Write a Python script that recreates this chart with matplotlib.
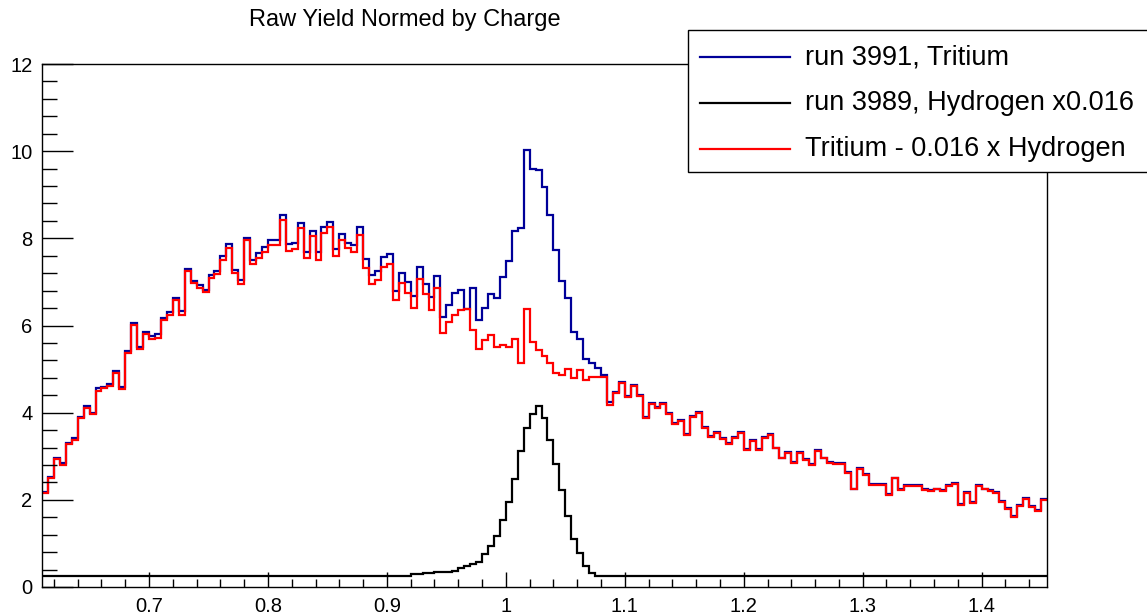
import numpy as np
import matplotlib
matplotlib.use("Agg")
import matplotlib.pyplot as plt
from matplotlib.patches import Rectangle
from matplotlib.lines import Line2D
from matplotlib.ticker import MultipleLocator, FuncFormatter

plt.rcParams['font.family'] = ['Liberation Sans', 'DejaVu Sans']

# histogram range (bin width 0.005)
x_lo, x_hi = 0.61, 1.455

# Tritium - 0.016 x Hydrogen (red)
tritium_sub = [
    2.15, 2.49, 2.93, 2.81, 3.27, 3.37, 3.88, 4.11, 3.96, 4.50,
    4.56, 4.61, 4.90, 4.54, 5.37, 6.01, 5.45, 5.80, 5.68, 5.72,
    6.12, 6.24, 6.58, 6.24, 7.26, 6.97, 6.87, 6.77, 7.10, 7.18,
    7.50, 7.78, 7.21, 6.95, 7.96, 7.42, 7.56, 7.69, 7.84, 7.84,
    8.42, 7.71, 7.75, 8.23, 7.54, 8.05, 7.50, 8.13, 8.25, 7.59,
    7.96, 7.78, 7.69, 8.07, 7.31, 6.96, 7.04, 7.35, 7.42, 6.58,
    6.98, 6.75, 6.41, 7.06, 6.73, 6.35, 6.85, 5.82, 6.09, 6.24,
    6.35, 6.37, 5.90, 5.47, 5.67, 5.78, 5.51, 5.55, 5.51, 5.68,
    5.13, 6.39, 5.63, 5.44, 5.30, 5.13, 4.90, 4.86, 5.01, 4.79,
    4.98, 4.76, 4.82, 4.82, 4.81, 4.17, 4.46, 4.69, 4.37, 4.61,
    4.38, 3.87, 4.20, 4.11, 4.21, 3.98, 3.75, 3.81, 3.49, 3.91,
    4.00, 3.64, 3.45, 3.54, 3.39, 3.28, 3.43, 3.54, 3.14, 3.36,
    3.14, 3.43, 3.49, 3.18, 2.95, 3.08, 2.84, 3.07, 2.91, 2.80,
    3.13, 2.95, 2.85, 2.82, 2.82, 2.62, 2.24, 2.70, 2.58, 2.34,
    2.34, 2.34, 2.11, 2.49, 2.22, 2.32, 2.31, 2.32, 2.22, 2.21,
    2.24, 2.20, 2.31, 2.36, 1.88, 2.15, 1.93, 2.31, 2.24, 2.21,
    2.15, 1.95, 1.80, 1.61, 1.86, 2.03, 1.84, 1.75, 2.00,
]

# run 3991, Tritium (navy)
tritium = [
    2.17, 2.52, 2.97, 2.85, 3.31, 3.41, 3.91, 4.15, 4.00, 4.56,
    4.60, 4.66, 4.95, 4.58, 5.42, 6.06, 5.50, 5.85, 5.75, 5.80,
    6.18, 6.32, 6.62, 6.34, 7.30, 7.02, 6.92, 6.82, 7.15, 7.26,
    7.59, 7.88, 7.28, 7.04, 8.01, 7.51, 7.67, 7.80, 7.96, 7.96,
    8.53, 7.88, 7.90, 8.36, 7.68, 8.16, 7.68, 8.26, 8.38, 7.75,
    8.11, 7.90, 7.84, 8.25, 7.52, 7.16, 7.25, 7.58, 7.65, 6.80,
    7.21, 7.00, 6.67, 7.35, 6.96, 6.66, 7.13, 6.19, 6.47, 6.75,
    6.81, 6.39, 6.85, 6.12, 6.40, 6.73, 6.64, 7.12, 7.47, 8.17,
    8.23, 10.02, 9.60, 9.56, 9.17, 8.53, 7.73, 7.03, 6.64, 5.86,
    5.70, 5.22, 5.15, 5.03, 4.86, 4.25, 4.48, 4.71, 4.39, 4.63,
    4.40, 3.90, 4.22, 4.13, 4.23, 4.00, 3.77, 3.83, 3.51, 3.93,
    4.02, 3.66, 3.47, 3.56, 3.41, 3.30, 3.45, 3.56, 3.16, 3.38,
    3.16, 3.45, 3.51, 3.20, 2.97, 3.10, 2.86, 3.09, 2.93, 2.82,
    3.15, 2.97, 2.87, 2.84, 2.84, 2.64, 2.26, 2.72, 2.60, 2.36,
    2.36, 2.36, 2.13, 2.51, 2.24, 2.34, 2.33, 2.34, 2.24, 2.23,
    2.26, 2.22, 2.33, 2.38, 1.90, 2.17, 1.95, 2.33, 2.26, 2.23,
    2.17, 1.97, 1.82, 1.63, 1.88, 2.05, 1.86, 1.77, 2.02,
]

# run 3989, Hydrogen x0.016 (black)
hydrogen = (
    [0.25] * 62
    + [0.29, 0.29, 0.33, 0.33, 0.35, 0.35, 0.35, 0.37, 0.43, 0.48,
       0.52, 0.58, 0.76, 0.95, 1.17, 1.54, 1.96, 2.47, 3.12, 3.64,
       3.98, 4.15, 3.87, 3.37, 2.82, 2.22, 1.63, 1.11, 0.77, 0.48,
       0.31]
    + [0.25] * 76
)

legend_labels = ["run 3991, Tritium", "run 3989, Hydrogen x0.016",
                 "Tritium - 0.016 x Hydrogen"]
navy = "#000099"
colors = [navy, "black", "red"]

W, H = 1147, 614
fig = plt.figure(figsize=(W / 100, H / 100), dpi=100)
ax = fig.add_axes([42 / W, 1 - 587 / H, (1047 - 42) / W, (587 - 64) / H])

edges = np.linspace(x_lo, x_hi, len(tritium_sub) + 1)
lw = 1.6
ax.stairs(tritium, edges, color=navy, linewidth=lw, baseline=None)
ax.stairs(hydrogen, edges, color="black", linewidth=lw, baseline=None)
ax.stairs(tritium_sub, edges, color="red", linewidth=lw, baseline=None)

ax.set_xlim(x_lo, x_hi)
ax.set_ylim(0, 12)

ax.xaxis.set_major_locator(MultipleLocator(0.1))
ax.xaxis.set_minor_locator(MultipleLocator(0.02))
ax.yaxis.set_major_locator(MultipleLocator(2))
ax.yaxis.set_minor_locator(MultipleLocator(0.4))
ax.xaxis.set_major_formatter(FuncFormatter(lambda v, p: f"{v:g}"))
ax.tick_params(axis="x", which="major", direction="in", length=11, width=1,
               labelsize=14.5, pad=7)
ax.tick_params(axis="x", which="minor", direction="in", length=6, width=1)
ax.tick_params(axis="y", which="major", direction="in", length=22, width=1,
               labelsize=14.5, pad=7)
ax.tick_params(axis="y", which="minor", direction="in", length=11, width=1)
for s in ax.spines.values():
    s.set_linewidth(1)

fig.text(405 / W, 1 - 20 / H, "Raw Yield Normed by Charge",
         ha="center", va="center", fontsize=17)

# legend box (runs off the right edge like the reference)
leg = Rectangle((688 / W, 1 - 172 / H), 470 / W, 142 / H,
                transform=fig.transFigure, facecolor="white",
                edgecolor="black", linewidth=1, zorder=5)
fig.add_artist(leg)
rows = [57, 103, 149]
for yrow, lab, col in zip(rows, legend_labels, colors):
    fy = 1 - yrow / H
    fig.add_artist(Line2D([700 / W, 790 / W], [fy, fy], color=col,
                          linewidth=lw, transform=fig.transFigure, zorder=6))
    fig.text(805 / W, fy, lab, ha="left", va="center", fontsize=19.5, zorder=6)

fig.savefig("out.png", dpi=100)
